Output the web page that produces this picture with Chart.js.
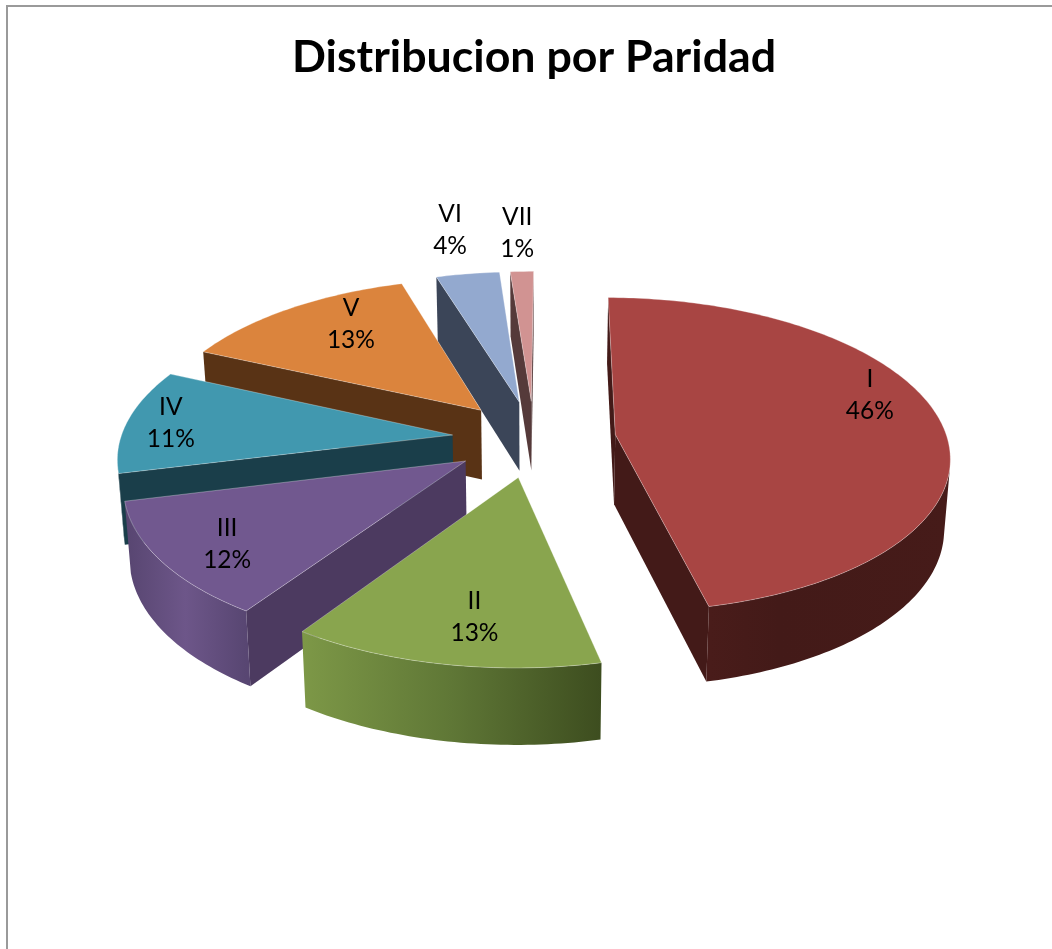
<!DOCTYPE html>
<html><head><meta charset="utf-8">
<style>html,body{margin:0;padding:0;background:#fff}canvas{display:block}</style>
<script src="https://cdn.jsdelivr.net/npm/chart.js@4"></script>
</head><body><canvas id="c" width="1052" height="949"></canvas>
<script>
const titleText = 'Distribucion por Paridad';
const categories = ['I','II','III','IV','V','VI','VII'];
const shares = [46.4,12.9,11.7,10.7,13.45,3.55,1.3];

const topColors = ['#a84543','#89a54e','#71588f','#4198af','#db843d','#93a9cf','#d19392'];
const radialWallColors = ['#431a18','#3f4f20','#4c3a60','#1a3e4a','#593315','#3b4558','#553a3a'];
const outerWallStops = [
  ['#521f1d','#431a18','#461b19'],
  ['#7d9847','#5f7736','#3d4d1f'],
  ['#574570','#6d5689','#584672'],
  ['#1a3e4a','#1a3e4a','#1a3e4a'],
  ['#593315','#593315','#593315'],
  ['#3b4558','#3b4558','#3b4558'],
  ['#553a3a','#553a3a','#553a3a']
];
const labelRadius = [0.845,0.77,0.81,0.866,0.77,1.40,1.34];
const labelTurnDeg = [-12,-2.4,-1.8,0,5.9,0,-0.3];

const pieRadius = 332, explode = 82, squash = 0.468, perspective = 0.000384,
      wallDepth = 70, wallDepthFalloff = 0.55, wallShrink = 0.985;

const view3d = {
  id:'view3d',
  beforeDraw(chart){
    const c = chart.ctx;
    c.save(); c.strokeStyle='#9a9a9a'; c.lineWidth=2;
    c.beginPath(); c.moveTo(7,949); c.lineTo(7,6); c.lineTo(1052,6); c.stroke(); c.restore();
  },
  beforeDatasetsDraw(chart){
    const ctx = chart.ctx, arcs = chart.getDatasetMeta(0).data;
    const cx = arcs[0].x, cy = arcs[0].y;
    const proj = (u,v,low) => {
      const w = 1/(1-perspective*v);
      const x = cx+u*w, y = cy+v*squash*w;
      return low ? [cx+(x-cx)*wallShrink, y+wallDepth*Math.pow(w,wallDepthFalloff)] : [x,y];
    };
    const area = q => q.reduce((s,p,i)=>{const n=q[(i+1)%q.length];return s+p[0]*n[1]-n[0]*p[1];},0);
    const fillPoly = (q,style) => {
      ctx.beginPath(); q.forEach((p,i)=>i?ctx.lineTo(p[0],p[1]):ctx.moveTo(p[0],p[1])); ctx.closePath();
      ctx.fillStyle=style; ctx.fill();
    };
    ctx.save();
    ctx.lineJoin='round';
    // back slices first, so the nearer ones cover them
    for(let i=arcs.length-1;i>=0;i--){
      const a = arcs[i], mid=(a.startAngle+a.endAngle)/2, R=a.outerRadius;
      const ox = Math.cos(mid)*explode, oy = Math.sin(mid)*explode;
      const rim=[]; const n=Math.max(2,Math.ceil((a.endAngle-a.startAngle)*180/Math.PI));
      for(let k=0;k<=n;k++){const t=a.startAngle+(a.endAngle-a.startAngle)*k/n;
        rim.push([ox+Math.cos(t)*R, oy+Math.sin(t)*R]);}
      const apex=[ox,oy];
      const quadOf=(p,q)=>[proj(p[0],p[1]),proj(q[0],q[1]),proj(q[0],q[1],true),proj(p[0],p[1],true)];
      const wall=(p,q,style)=>{const quad=quadOf(p,q); if(area(quad)<0) fillPoly(quad,style);};
      wall(apex,rim[0],radialWallColors[i]);
      wall(rim[n],apex,radialWallColors[i]);
      const xs=rim.map(p=>proj(p[0],p[1])[0]);
      const g=ctx.createLinearGradient(Math.min(...xs),0,Math.max(...xs),0);
      outerWallStops[i].forEach((s,j,l)=>g.addColorStop(j/(l.length-1),s));
      // the visible part of the curved wall, as one seamless strip
      let upper=[],lower=[];
      const flush=()=>{ if(upper.length>1) fillPoly([...upper,...lower.reverse()],g); upper=[];lower=[]; };
      for(let k=0;k<n;k++){
        const quad=quadOf(rim[k],rim[k+1]);
        if(area(quad)<0){
          if(!upper.length){upper.push(quad[0]);lower.push(quad[3]);}
          upper.push(quad[1]);lower.push(quad[2]);
        } else flush();
      }
      flush();
      const top=[apex,...rim].map(p=>proj(p[0],p[1]));
      ctx.beginPath(); top.forEach((p,j)=>j?ctx.lineTo(p[0],p[1]):ctx.moveTo(p[0],p[1])); ctx.closePath();
      ctx.fillStyle=a.options.backgroundColor; ctx.fill();
      ctx.strokeStyle='rgba(255,255,255,0.3)'; ctx.lineWidth=1; ctx.stroke();
    }
    ctx.restore();
    return false;
  },
  afterDraw(chart){
    const ctx = chart.ctx, arcs = chart.getDatasetMeta(0).data;
    const cx = arcs[0].x, cy = arcs[0].y;
    ctx.save();
    ctx.font='24.5px Lato'; ctx.fillStyle='#000'; ctx.textAlign='center'; ctx.textBaseline='middle';
    arcs.forEach((a,i)=>{
      const mid=(a.startAngle+a.endAngle)/2, t=mid+labelTurnDeg[i]*Math.PI/180, r=labelRadius[i]*a.outerRadius;
      const u=Math.cos(mid)*explode+Math.cos(t)*r, v=Math.sin(mid)*explode+Math.sin(t)*r;
      const w=1/(1-perspective*v), x=cx+u*w, y=cy+v*squash*w;
      ctx.fillText(categories[i],x,y-16);
      ctx.fillText(Math.round(shares[i])+'%',x,y+16);
    });
    ctx.restore();
  }
};

new Chart(document.getElementById('c'),{
  type:'pie',
  data:{labels:categories,datasets:[{data:shares,backgroundColor:topColors,borderWidth:0,radius:pieRadius}]},
  options:{
    responsive:false,animation:false,events:[],rotation:0.4,
    layout:{padding:{left:16,right:0,top:0,bottom:156.6}},
    plugins:{
      legend:{display:false},tooltip:{enabled:false},
      title:{display:true,text:titleText,color:'#000',font:{family:'Lato',size:44.7,weight:'bold'},padding:{top:31,bottom:0}}
    }
  },
  plugins:[view3d]
});
</script></body></html>
